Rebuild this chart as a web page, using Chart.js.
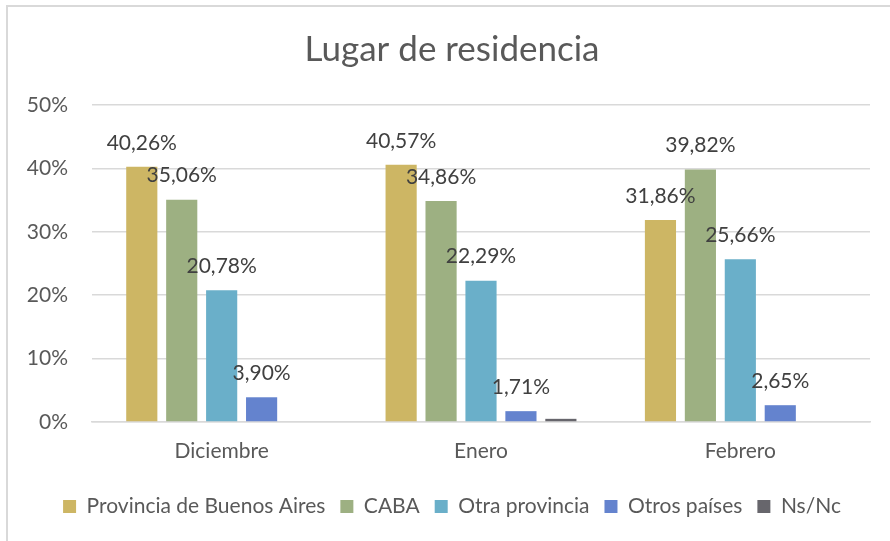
<!DOCTYPE html>
<html><head><meta charset="utf-8">
<script src="https://cdn.jsdelivr.net/npm/chart.js@4/dist/chart.umd.min.js"></script>
<style>html,body{margin:0;padding:0;background:#fff;}#wrap{position:absolute;left:0;top:0;width:890px;height:541px;}</style>
</head><body><div id="wrap"><canvas id="c" width="890" height="541"></canvas></div>
<script>
const categories = ["Diciembre", "Enero", "Febrero"];
const seriesNames = ["Provincia de Buenos Aires", "CABA", "Otra provincia", "Otros países", "Ns/Nc"];
const provinciaBA = [40.26, 40.57, 31.86];
const caba = [35.06, 34.86, 39.82];
const otraProvincia = [20.78, 22.29, 25.66];
const otrosPaises = [3.90, 1.71, 2.65];
const nsnc = [0, 0.5, 0];
const showLabel = [true, true, true, true, false];
const yTicks = [0, 10, 20, 30, 40, 50];
const colors = ["#CDB664", "#9DB082", "#6AAFC9", "#6483CE", "#67666C"];
const FONT = "Lato";

const allSeries = [provinciaBA, caba, otraProvincia, otrosPaises, nsnc];

const bgBorder = {
  id: 'bgBorder',
  beforeDraw(chart) {
    const ctx = chart.ctx;
    ctx.save();
    ctx.fillStyle = '#fff';
    ctx.fillRect(0, 0, chart.width, chart.height);
    ctx.strokeStyle = '#D9D9D9';
    ctx.lineWidth = 2;
    ctx.beginPath();
    ctx.moveTo(7, chart.height);
    ctx.lineTo(7, 6);
    ctx.lineTo(chart.width, 6);
    ctx.stroke();
    ctx.restore();
  }
};

const valueLabels = {
  id: 'valueLabels',
  afterDatasetsDraw(chart) {
    const ctx = chart.ctx;
    ctx.save();
    ctx.font = "21px " + FONT;
    ctx.fillStyle = '#404040';
    ctx.textAlign = 'center';
    ctx.textBaseline = 'middle';
    chart.data.datasets.forEach((ds, i) => {
      if (!showLabel[i]) return;
      const meta = chart.getDatasetMeta(i);
      meta.data.forEach((el, j) => {
        const v = ds.data[j];
        if (!v) return;
        ctx.fillText(v.toFixed(2).replace('.', ',') + '%', el.x, el.y - 24);
      });
    });
    ctx.restore();
  }
};

new Chart(document.getElementById('c'), {
  type: 'bar',
  data: {
    labels: categories,
    datasets: seriesNames.map((n, i) => ({
      label: n,
      data: allSeries[i],
      backgroundColor: colors[i],
      borderWidth: 0,
      categoryPercentage: 0.77,
      barPercentage: 0.78
    }))
  },
  options: {
    responsive: false,
    animation: false,
    layout: { padding: { left: 14, right: 0, top: 29, bottom: 14 } },
    plugins: {
      title: {
        display: true,
        text: 'Lugar de residencia',
        color: '#595959',
        font: { family: FONT, size: 35, weight: 'normal', lineHeight: 1.2 },
        padding: { top: 0, bottom: 34 }
      },
      legend: {
        position: 'bottom',
        labels: {
          color: '#595959',
          font: { family: FONT, size: 21 },
          boxWidth: 13,
          boxHeight: 13,
          padding: 15
        }
      },
      tooltip: { enabled: false }
    },
    scales: {
      x: {
        grid: { display: false, drawTicks: false },
        border: { color: '#D9D9D9', width: 1.5 },
        ticks: { color: '#595959', font: { family: FONT, size: 21 }, padding: 17 },
        afterFit(axis) { axis.height = 59; }
      },
      y: {
        min: 0, max: 50,
        afterBuildTicks(axis) { axis.ticks = yTicks.map(v => ({ value: v })); },
        afterFit(axis) { axis.width = 78; },
        grid: { color: '#D9D9D9', lineWidth: 1.5, drawTicks: false },
        border: { display: false },
        ticks: { color: '#595959', font: { family: FONT, size: 21 }, padding: 24, callback: v => v + '%' }
      },
      yRight: {
        position: 'right',
        min: 0, max: 50,
        grid: { display: false, drawTicks: false },
        border: { display: false },
        ticks: { display: false },
        afterFit(axis) { axis.width = 20; }
      }
    }
  },
  plugins: [bgBorder, valueLabels]
});
</script></body></html>
